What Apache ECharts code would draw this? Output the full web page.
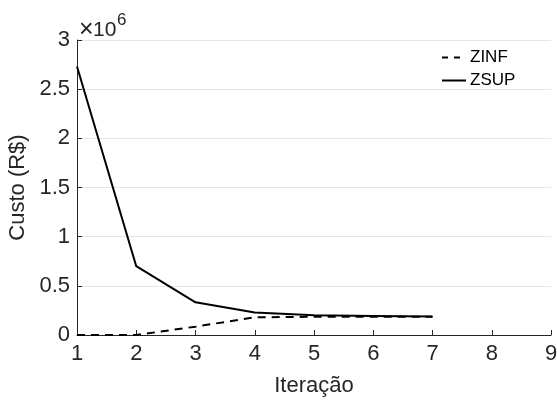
<!DOCTYPE html>
<html><head><meta charset="utf-8">
<script src="https://cdn.jsdelivr.net/npm/echarts@6/dist/echarts.min.js"></script>
<style>html,body{margin:0;padding:0;background:#fff}#c{width:557px;height:402px}</style>
</head><body><div id="c"></div>
<script>
const iterations = [1, 2, 3, 4, 5, 6, 7];
const zinf = [0, 0, 0.085e6, 0.18e6, 0.185e6, 0.186e6, 0.186e6];
const zsup = [2.73e6, 0.70e6, 0.332e6, 0.228e6, 0.200e6, 0.193e6, 0.188e6];
const xTicks = [1, 2, 3, 4, 5, 6, 7, 8, 9];
const yTicks = [0, 0.5, 1, 1.5, 2, 2.5, 3];

const font = 'Liberation Sans, Arial, sans-serif';
const txt = '#262626';
const chart = echarts.init(document.getElementById('c'));
chart.setOption({
  animation: false,
  grid: { left: 77, right: 6, top: 40, bottom: 67, containLabel: false, outerBoundsMode: 'none' },
  xAxis: {
    type: 'value', min: xTicks[0], max: xTicks[xTicks.length - 1], interval: 1,
    name: 'Iteração', nameLocation: 'middle', nameGap: 40,
    nameTextStyle: { fontFamily: font, fontSize: 22, color: txt },
    axisLine: { lineStyle: { color: '#262626', width: 1 } },
    axisTick: { inside: true, length: 5, lineStyle: { color: '#262626' } },
    axisLabel: { fontFamily: font, fontSize: 22, color: txt, margin: 8 },
    splitLine: { show: false }
  },
  yAxis: {
    type: 'value', min: yTicks[0] * 1e6, max: yTicks[yTicks.length - 1] * 1e6, interval: 0.5e6,
    name: 'Custo (R$)', nameLocation: 'middle', nameGap: 42, nameRotate: 90,
    nameTextStyle: { fontFamily: font, fontSize: 22, color: txt },
    axisLine: { show: true, lineStyle: { color: '#262626', width: 1 } },
    axisTick: { show: true, inside: true, length: 5, lineStyle: { color: '#262626' } },
    axisLabel: { fontFamily: font, fontSize: 22, color: txt, margin: 7,
      formatter: v => String(v / 1e6) },
    splitLine: { show: true, lineStyle: { color: '#e6e6e6', width: 1 } }
  },
  graphic: [
    { type: 'text', x: 79, y: 30, style: { text: '×', fontFamily: font, fontSize: 25, fill: txt, verticalAlign: 'middle' } },
    { type: 'text', x: 93, y: 30, style: { text: '10', fontFamily: font, fontSize: 21, fill: txt, verticalAlign: 'middle' } },
    { type: 'text', x: 117, y: 20, style: { text: '6', fontFamily: font, fontSize: 17, fill: txt, verticalAlign: 'middle' } }
  ],
  legend: {
    left: 437, top: 44, orient: 'vertical', itemGap: 6, itemWidth: 24, itemHeight: 2,
    symbolKeepAspect: false,
    textStyle: { fontFamily: font, fontSize: 17, color: '#000', padding: [0, 0, 0, -1] },
    itemStyle: { borderWidth: 0 },
    data: [
      { name: 'ZINF', icon: 'path://M0,0h6v2h-6zM12,0h6v2h-6zM23.9,0h0.1v2h-0.1z', itemStyle: { color: '#000' } },
      { name: 'ZSUP', icon: 'rect', itemStyle: { color: '#000' } }
    ]
  },
  series: [
    { name: 'ZINF', type: 'line', data: iterations.map((x, i) => [x, zinf[i]]), showSymbol: false,
      lineStyle: { color: '#000', width: 2, type: [8, 6] }, itemStyle: { color: '#000' } },
    { name: 'ZSUP', type: 'line', data: iterations.map((x, i) => [x, zsup[i]]), showSymbol: false,
      lineStyle: { color: '#000', width: 2 }, itemStyle: { color: '#000' } }
  ]
});
</script></body></html>
